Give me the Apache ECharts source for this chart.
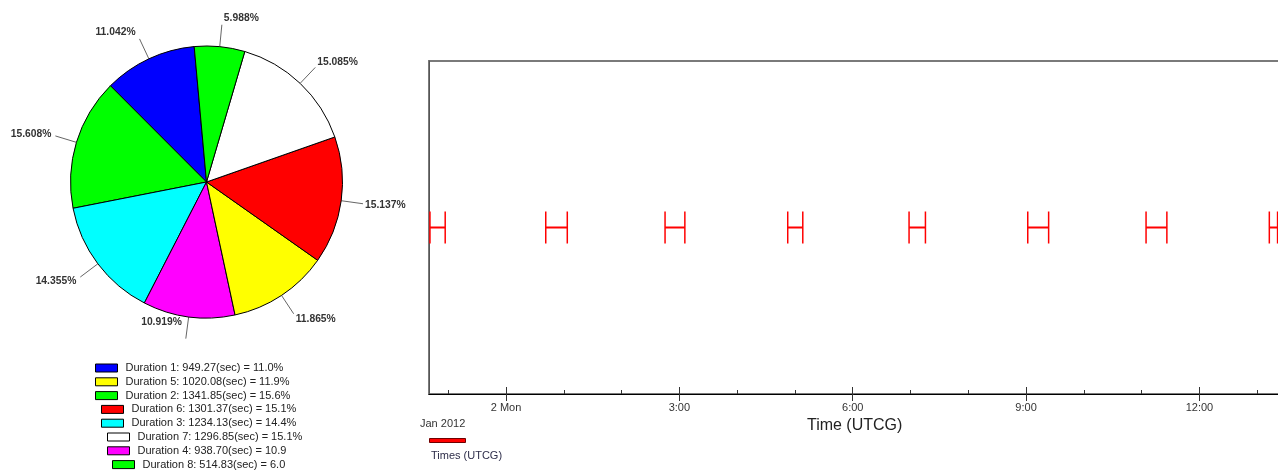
<!DOCTYPE html>
<html><head><meta charset="utf-8">
<script src="https://cdn.jsdelivr.net/npm/echarts@6/dist/echarts.min.js"></script>
<style>html,body{margin:0;padding:0;background:#fff}#c{width:1278px;height:470px}</style>
</head><body><div id="c"></div>
<script>
// ---- data ----
const durationNames = ['Duration 1','Duration 2','Duration 3','Duration 4','Duration 5','Duration 6','Duration 7','Duration 8'];
const durationSeconds = [949.27, 1341.85, 1234.13, 938.70, 1020.08, 1301.37, 1296.85, 514.83];
const sliceColors = ['#0000ff','#00ff00','#00ffff','#ff00ff','#ffff00','#ff0000','#ffffff','#00ff00'];
const legendOrder = [0, 4, 1, 5, 2, 6, 3, 7];
const legendLabels = [
  'Duration 1: 949.27(sec) = 11.0%',
  'Duration 5: 1020.08(sec) = 11.9%',
  'Duration 2: 1341.85(sec) = 15.6%',
  'Duration 6: 1301.37(sec) = 15.1%',
  'Duration 3: 1234.13(sec) = 14.4%',
  'Duration 7: 1296.85(sec) = 15.1%',
  'Duration 4: 938.70(sec) = 10.9',
  'Duration 8: 514.83(sec) = 6.0'
];
const intervalStarts = [
  '2012-01-01T22:41:00Z', '2012-01-02T00:41:14Z', '2012-01-02T02:45:07Z', '2012-01-02T04:52:30Z',
  '2012-01-02T06:58:30Z', '2012-01-02T09:01:45Z', '2012-01-02T11:04:36Z', '2012-01-02T13:12:36Z'
];
const axisStart = '2012-01-01T22:40:00Z';
const axisEnd = '2012-01-02T13:24:00Z';
const axisRef = '2012-01-02T00:00:00Z';
const majorTickHours = [0, 3, 6, 9, 12];
const majorTickLabels = ['2 Mon', '3:00', '6:00', '9:00', '12:00'];
const minorTickHours = [-1, 1, 2, 4, 5, 7, 8, 10, 11, 13];
const timeSeriesName = 'Times (UTCG)';
const axisTitle = 'Time (UTCG)';
const epochLabel = 'Jan 2012';

// ---- layout ----
const FONT = "'Liberation Sans', Arial, sans-serif";
const legendRowX = [95, 95, 95, 101, 101, 107, 107, 112];
const legendRowY0 = 368, legendRowStep = 13.8;
const pieLabelBottomLimit = 327;

const totalSeconds = durationSeconds.reduce((a, b) => a + b, 0);
const refMs = Date.parse(axisRef);
const toH = s => (Date.parse(s) - refMs) / 3600000;
const xMin = toH(axisStart), xMax = toH(axisEnd);
const intervalData = intervalStarts.map((s, i) => {
  const a = toH(s);
  return [a, a + durationSeconds[i] / 3600, 0.5];
});
const labelFor = {};
legendOrder.forEach((idx, r) => { labelFor[durationNames[idx]] = legendLabels[r]; });

const pieLegends = legendOrder.map((idx, r) => ({
  show: true, selectedMode: false, padding: 0, itemGap: 0,
  left: legendRowX[r], top: legendRowY0 + r * legendRowStep - 7,
  icon: 'rect', itemWidth: 22, itemHeight: 8,
  itemStyle: { borderColor: '#000', borderWidth: 1 },
  data: [durationNames[idx]],
  formatter: n => labelFor[n],
  textStyle: { fontFamily: FONT, fontSize: 11, color: '#222', lineHeight: 14, padding: [0, 0, 0, 3] }
}));

const axisCommon = {
  type: 'value', min: xMin, max: xMax, position: 'bottom',
  splitLine: { show: false }
};

const chart = echarts.init(document.getElementById('c'), null, { renderer: 'canvas' });
chart.setOption({
  animation: false,
  backgroundColor: '#ffffff',
  legend: pieLegends.concat([{
    show: true, selectedMode: false, padding: 0,
    left: 429, top: 438, icon: 'rect', itemWidth: 36, itemHeight: 4,
    itemStyle: { borderColor: '#700000', borderWidth: 1 },
    data: [timeSeriesName], formatter: () => ''
  }]),
  grid: { left: 429, top: 61, right: -2.3, bottom: 76, containLabel: false, outerBoundsMode: 'none',
    show: true, borderColor: '#7a7a7a', borderWidth: 2, backgroundColor: 'transparent' },
  xAxis: [
    Object.assign({}, axisCommon, {
      name: axisTitle, nameLocation: 'middle', nameGap: 22,
      nameTextStyle: { fontFamily: FONT, fontSize: 16, color: '#222' },
      axisLine: { show: true, onZero: false, lineStyle: { color: '#000', width: 1 } },
      axisTick: { show: true, inside: false, length: 7, customValues: majorTickHours, lineStyle: { color: '#333' } },
      axisLabel: { show: true, margin: 8, customValues: majorTickHours, fontFamily: FONT, fontSize: 11, color: '#333',
        formatter: v => majorTickLabels[majorTickHours.indexOf(Math.round(v))] }
    }),
    Object.assign({}, axisCommon, {
      axisLine: { show: false, onZero: false },
      axisTick: { show: true, inside: true, length: 7, customValues: majorTickHours, lineStyle: { color: '#333' } },
      axisLabel: { show: false }
    }),
    Object.assign({}, axisCommon, {
      axisLine: { show: false, onZero: false },
      axisTick: { show: true, inside: true, length: 4, customValues: minorTickHours, lineStyle: { color: '#333' } },
      axisLabel: { show: false }
    })
  ],
  yAxis: {
    type: 'value', min: 0, max: 1,
    axisLine: { show: true, onZero: false, lineStyle: { color: '#555', width: 1 } },
    axisTick: { show: false }, axisLabel: { show: false }, splitLine: { show: false }
  },
  graphic: [
    { type: 'text', left: 420, top: 418, style: { text: epochLabel, font: '11px ' + FONT, fill: '#333' } },
    { type: 'text', left: 431, top: 450, style: { text: timeSeriesName, font: '11px ' + FONT, fill: '#2e2e4a' } }
  ],
  series: [
    {
      type: 'pie', name: 'Durations',
      center: [206.5, 182], radius: 136,
      startAngle: 95.2, clockwise: false,
      avoidLabelOverlap: true,
      itemStyle: { borderColor: '#000', borderWidth: 1 },
      label: { show: true, position: 'outside', overflow: 'none', edgeDistance: 0,
        formatter: p => (p.value / totalSeconds * 100).toFixed(3) + '%',
        fontFamily: FONT, fontSize: 10.3, fontWeight: 'bold', color: '#333' },
      labelLine: { show: true, length: 22, length2: 0, lineStyle: { color: '#666', width: 1 } },
      labelLayout: p => {
        const pts = p.labelLinePoints;
        if (!pts) return {};
        const a = pts[0], b = pts[pts.length - 1];
        const len = Math.hypot(b[0] - a[0], b[1] - a[1]) || 1;
        let dy = (b[1] - a[1]) / len * 7;
        const dx = b[0] >= a[0] ? -3 : 1;
        const r = p.labelRect;
        const bottom = r.y + r.height + dy;
        if (bottom > pieLabelBottomLimit) dy -= bottom - pieLabelBottomLimit;
        return { dx: dx, dy: dy, labelLinePoints: pts };
      },
      emphasis: { disabled: true },
      data: durationNames.map((n, i) => ({ name: n, value: durationSeconds[i], itemStyle: { color: sliceColors[i] } }))
    },
    {
      type: 'custom', name: timeSeriesName, xAxisIndex: 0, yAxisIndex: 0, clip: true,
      itemStyle: { color: '#ff0000' },
      encode: { x: [0, 1], y: 2 },
      data: intervalData,
      renderItem: (params, api) => {
        const s = api.coord([api.value(0), api.value(2)]);
        const e = api.coord([api.value(1), api.value(2)]);
        const h = 16;
        const st = { stroke: '#ff0000', lineWidth: 1.5 };
        return {
          type: 'group', children: [
            { type: 'line', shape: { x1: s[0], y1: s[1] - h, x2: s[0], y2: s[1] + h }, style: st },
            { type: 'line', shape: { x1: e[0], y1: e[1] - h, x2: e[0], y2: e[1] + h }, style: st },
            { type: 'line', shape: { x1: s[0], y1: s[1], x2: e[0], y2: e[1] }, style: { stroke: '#ff0000', lineWidth: 2 } }
          ]
        };
      }
    }
  ]
});
</script></body></html>
